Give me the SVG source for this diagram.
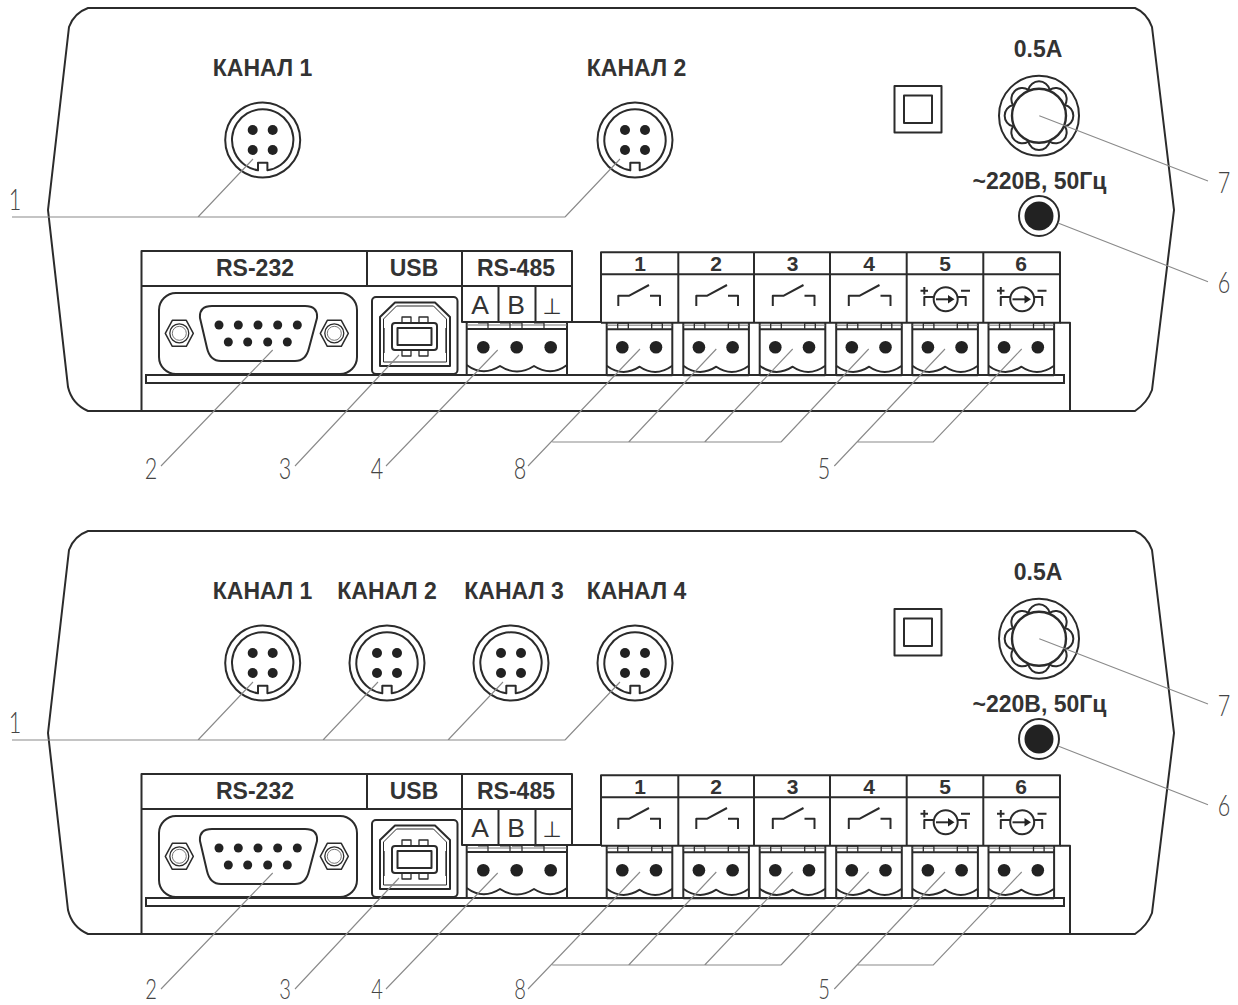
<svg xmlns="http://www.w3.org/2000/svg" width="1238" height="1005" viewBox="0 0 1238 1005">
<style>
.l{fill:none;stroke:#2b2b2b;stroke-width:2;stroke-linejoin:round}
.w{fill:#fff;stroke:#2b2b2b;stroke-width:2}
.d{fill:#222}
.b{font-family:"Liberation Sans",Arial,sans-serif;font-weight:700;font-size:23px;fill:#333;text-anchor:middle}
.n{font-family:"Liberation Sans",Arial,sans-serif;font-weight:700;font-size:21px;fill:#333;text-anchor:middle}
.s{font-family:"Liberation Sans",Arial,sans-serif;font-size:26.5px;fill:#333;text-anchor:middle}
.p{font-family:"DejaVu Sans",sans-serif;font-size:22px;fill:#333;text-anchor:middle}
.num{font-family:Lato,"Liberation Sans",sans-serif;font-weight:300;font-size:30px;fill:#444;text-anchor:middle}
.low{font-size:28px}
.ld{fill:none;stroke:#8a8a8a;stroke-width:1.1}
</style>
<defs>
<path id="body" class="l" d="M88 8L1135 8Q1147 13 1152 27L1174 210L1152 390Q1147 403 1135 411L88 411Q72 404 68 387L48 210L69 27Q74 13 88 8Z"/>
<g id="din">
<circle class="l" r="37.5"/>
<path class="l" d="M-4.7 30.3L-4.7 22.7L4.7 22.7L4.7 30.3A30.7 30.7 0 1 0 -4.7 30.3Z"/>
<circle class="d" cx="-10" cy="-10" r="5"/><circle class="d" cx="10" cy="-10" r="5"/><circle class="d" cx="-10" cy="10" r="5"/><circle class="d" cx="10" cy="10" r="5"/>
</g>
<g id="fuse">
<circle class="l" r="40"/>
<path class="l" d="M25.9 -10.7A11 11 0 0 1 25.9 10.7A11 11 0 0 1 10.7 25.9A11 11 0 0 1 -10.7 25.9A11 11 0 0 1 -25.9 10.7A11 11 0 0 1 -25.9 -10.7A11 11 0 0 1 -10.7 -25.9A11 11 0 0 1 10.7 -25.9A11 11 0 0 1 25.9 -10.7Z"/>
<circle class="w" r="27" style="stroke-width:2.4"/>
</g>
<path id="hex" class="l" d="M-14 0L-7 -13L7 -13L14 0L7 13L-7 13Z" style="stroke-width:1.5"/>
<g id="nut"><use href="#hex"/><circle r="9.5" fill="none" stroke="#2b2b2b" stroke-width="1.3"/><circle r="7" fill="none" stroke="#555" stroke-width=".8"/></g>
<g id="term2">
<path class="l" d="M0 0V52.5M65.6 0V52.5M0 52.5H65.6"/>
<path d="M0 2.5H65.6" fill="none" stroke="#777" stroke-width="1"/>
<path class="l" d="M0 6.5H65.6"/>
<path class="l" d="M11 0.5H21.6V6M45 0.5H55.6V6M11 0.5V6M45 0.5V6" style="stroke-width:1.3"/>
<path class="l" d="M0 43Q16 55 33 44Q49 55 65.6 43"/>
<circle class="d" cx="15.6" cy="24.6" r="6.3"/><circle class="d" cx="49.3" cy="24.6" r="6.3"/>
</g>
<path id="sw" class="l" d="M618.3 306V295.7H629.3L649 285M650 295.7H660V306"/>
<g id="src">
<circle class="l" cx="945.7" cy="299.3" r="12"/>
<path class="l" d="M936 299.3H950"/><path class="d" d="M948 295L954.5 299.3L948 303.6Z"/>
<path class="l" d="M920.5 290.7H928M924.3 287V294.5M961 290.7H970M924.3 306V297H933.5M957.5 297H965.7V306"/>
</g>
</defs>

<g id="panel-top">
<use href="#body"/>
<g id="top-frame"><path class="l" d="M141.500 411V251H572V322M141.500 286H572M367 251V286M462 251V322H601M498.500 286V322M535.500 286V322M1070 411V322.700H1060"/>
<rect class="w" x="146" y="375" width="918" height="8"/></g>
<g id="top-din1"><use href="#din" x="262.700" y="140"/><text class="b" x="262.500" y="76">КАНАЛ 1</text></g>
<g id="top-din2"><use href="#din" x="635" y="140"/><text class="b" x="636.500" y="76">КАНАЛ 2</text></g>
<g id="top-square"><rect class="l" x="894.500" y="86" width="47" height="46.500"/><rect class="l" x="904" y="95.500" width="28" height="27.500"/></g>
<g id="top-fuse"><use href="#fuse" x="1039" y="115.700"/><text class="b" x="1038" y="57">0.5А</text></g>
<g id="top-jack"><circle class="l" cx="1039" cy="216" r="20"/><circle class="d" cx="1039" cy="216" r="14.500"/><text class="b" x="1039.500" y="189">~220В, 50Гц</text></g>
<g id="top-rs232"><text class="b" x="255" y="276">RS-232</text>
<rect class="l" x="159" y="293" width="198" height="81" rx="17"/>
<use href="#nut" x="179.300" y="333.300"/><use href="#nut" x="334.300" y="333.300"/>
<path class="l" d="M212 306H305Q318 306 317 318L309 348Q306 361 295 361H221Q210 361 207 348L200 318Q199 306 212 306Z"/>
<g class="d"><circle cx="219" cy="325" r="4.500"/><circle cx="238.300" cy="325" r="4.500"/><circle cx="258" cy="325" r="4.500"/><circle cx="277.700" cy="325" r="4.500"/><circle cx="297.300" cy="325" r="4.500"/><circle cx="228.300" cy="342" r="4.500"/><circle cx="247.700" cy="342" r="4.500"/><circle cx="267.700" cy="342" r="4.500"/><circle cx="287.300" cy="342" r="4.500"/></g></g>
<g id="top-usb"><text class="b" x="414" y="276">USB</text>
<rect class="l" x="372" y="297" width="85.500" height="77" rx="4"/>
<path class="l" d="M395 302.500H435L450 317V366H380V317Z"/>
<path class="l" d="M396.500 306H433.500L446.500 319V362H383.500V319Z" style="stroke-width:1"/>
<rect class="l" x="392" y="323" width="45" height="27" rx="3"/><rect class="l" x="397.500" y="328" width="34" height="17"/>
<path class="l" d="M402 323V317H411V323M419 323V317H428V323M402 350V356H411V350M419 350V356H428V350M384 328V353M446 328V353" style="stroke-width:1.300"/></g>
<g id="top-rs485"><text class="b" x="516" y="276">RS-485</text><text class="s" x="480" y="314">A</text><text class="s" x="516" y="314">B</text><text class="p" x="552" y="314">⊥</text>
<path class="l" d="M466.700 322.700V375M567 322.700V375M466.700 375H567"/>
<path d="M466.700 325H567" fill="none" stroke="#777"/><path class="l" d="M466.700 329H567"/>
<path class="l" d="M478 323H488V329M500 323H510V329M512 323H522V329M534 323H544V329" style="stroke-width:1.200"/>
<path class="l" d="M466.700 365Q483 377 500 366Q517 377 534 366Q551 377 567 365"/>
<circle class="d" cx="483.300" cy="347.300" r="6.300"/><circle class="d" cx="516.700" cy="347.300" r="6.300"/><circle class="d" cx="550.700" cy="347.300" r="6.300"/></g>
<g id="top-outputs">
<path class="l" d="M601 322.700V252.300H1060V322.700H601M601 274.300H1060M678.300 252.300V322.700M754 252.300V322.700M830 252.300V322.700M906.700 252.300V322.700M983.300 252.300V322.700"/>
<text class="n" x="640" y="271">1</text><text class="n" x="716" y="271">2</text><text class="n" x="792.500" y="271">3</text><text class="n" x="869" y="271">4</text><text class="n" x="945" y="271">5</text><text class="n" x="1021" y="271">6</text>
<use href="#sw"/><use href="#sw" x="78"/><use href="#sw" x="154.500"/><use href="#sw" x="230.500"/><use href="#src"/><use href="#src" x="76.500"/>
<use href="#term2" x="606.700" y="322.700"/><use href="#term2" x="683.300" y="322.700"/><use href="#term2" x="759.700" y="322.700"/><use href="#term2" x="836.200" y="322.700"/><use href="#term2" x="912.300" y="322.700"/><use href="#term2" x="988.500" y="322.700"/>
</g>
</g>

<g id="panel-bottom" transform="translate(0,523)">
<use href="#body"/>
<g id="bot-frame"><path class="l" d="M141.500 411V251H572V322M141.500 286H572M367 251V286M462 251V322H601M498.500 286V322M535.500 286V322M1070 411V322.700H1060"/>
<rect class="w" x="146" y="375" width="918" height="8"/></g>
<g id="bot-din1"><use href="#din" x="262.700" y="140"/><text class="b" x="262.500" y="76">КАНАЛ 1</text></g>
<g id="bot-din2"><use href="#din" x="387" y="140"/><text class="b" x="387" y="76">КАНАЛ 2</text></g>
<g id="bot-din3"><use href="#din" x="511" y="140"/><text class="b" x="514" y="76">КАНАЛ 3</text></g>
<g id="bot-din4"><use href="#din" x="635" y="140"/><text class="b" x="636.500" y="76">КАНАЛ 4</text></g>
<g id="bot-square"><rect class="l" x="894.500" y="86" width="47" height="46.500"/><rect class="l" x="904" y="95.500" width="28" height="27.500"/></g>
<g id="bot-fuse"><use href="#fuse" x="1039" y="115.700"/><text class="b" x="1038" y="57">0.5А</text></g>
<g id="bot-jack"><circle class="l" cx="1039" cy="216" r="20"/><circle class="d" cx="1039" cy="216" r="14.500"/><text class="b" x="1039.500" y="189">~220В, 50Гц</text></g>
<g id="bot-rs232"><text class="b" x="255" y="276">RS-232</text>
<rect class="l" x="159" y="293" width="198" height="81" rx="17"/>
<use href="#nut" x="179.300" y="333.300"/><use href="#nut" x="334.300" y="333.300"/>
<path class="l" d="M212 306H305Q318 306 317 318L309 348Q306 361 295 361H221Q210 361 207 348L200 318Q199 306 212 306Z"/>
<g class="d"><circle cx="219" cy="325" r="4.500"/><circle cx="238.300" cy="325" r="4.500"/><circle cx="258" cy="325" r="4.500"/><circle cx="277.700" cy="325" r="4.500"/><circle cx="297.300" cy="325" r="4.500"/><circle cx="228.300" cy="342" r="4.500"/><circle cx="247.700" cy="342" r="4.500"/><circle cx="267.700" cy="342" r="4.500"/><circle cx="287.300" cy="342" r="4.500"/></g></g>
<g id="bot-usb"><text class="b" x="414" y="276">USB</text>
<rect class="l" x="372" y="297" width="85.500" height="77" rx="4"/>
<path class="l" d="M395 302.500H435L450 317V366H380V317Z"/>
<path class="l" d="M396.500 306H433.500L446.500 319V362H383.500V319Z" style="stroke-width:1"/>
<rect class="l" x="392" y="323" width="45" height="27" rx="3"/><rect class="l" x="397.500" y="328" width="34" height="17"/>
<path class="l" d="M402 323V317H411V323M419 323V317H428V323M402 350V356H411V350M419 350V356H428V350M384 328V353M446 328V353" style="stroke-width:1.300"/></g>
<g id="bot-rs485"><text class="b" x="516" y="276">RS-485</text><text class="s" x="480" y="314">A</text><text class="s" x="516" y="314">B</text><text class="p" x="552" y="314">⊥</text>
<path class="l" d="M466.700 322.700V375M567 322.700V375M466.700 375H567"/>
<path d="M466.700 325H567" fill="none" stroke="#777"/><path class="l" d="M466.700 329H567"/>
<path class="l" d="M478 323H488V329M500 323H510V329M512 323H522V329M534 323H544V329" style="stroke-width:1.200"/>
<path class="l" d="M466.700 365Q483 377 500 366Q517 377 534 366Q551 377 567 365"/>
<circle class="d" cx="483.300" cy="347.300" r="6.300"/><circle class="d" cx="516.700" cy="347.300" r="6.300"/><circle class="d" cx="550.700" cy="347.300" r="6.300"/></g>
<g id="bot-outputs">
<path class="l" d="M601 322.700V252.300H1060V322.700H601M601 274.300H1060M678.300 252.300V322.700M754 252.300V322.700M830 252.300V322.700M906.700 252.300V322.700M983.300 252.300V322.700"/>
<text class="n" x="640" y="271">1</text><text class="n" x="716" y="271">2</text><text class="n" x="792.500" y="271">3</text><text class="n" x="869" y="271">4</text><text class="n" x="945" y="271">5</text><text class="n" x="1021" y="271">6</text>
<use href="#sw"/><use href="#sw" x="78"/><use href="#sw" x="154.500"/><use href="#sw" x="230.500"/><use href="#src"/><use href="#src" x="76.500"/>
<use href="#term2" x="606.700" y="322.700"/><use href="#term2" x="683.300" y="322.700"/><use href="#term2" x="759.700" y="322.700"/><use href="#term2" x="836.200" y="322.700"/><use href="#term2" x="912.300" y="322.700"/><use href="#term2" x="988.500" y="322.700"/>
</g>
</g>

<g id="connectors">
<path class="ld" d="M12 217H565M198 217L253 159M565 217L620 159"/>
<path class="ld" d="M161 466L272.700 350M295 466L399 355M386 466L497.700 350M528 466L640 349M552.300 442H781M628.700 442L716.300 349M704.700 442L792.700 349M781 442L868.700 349M834.300 466L945 349M856.700 442H933.300L1021.700 349M1039.300 115.700L1208 181M1058 223L1208 281.700"/>
<path class="ld" d="M12 740H565M198 740L253 682M323 740L378 682M448 740L503 682M565 740L620 682"/>
<path class="ld" d="M161 989L272.700 873M295 989L399 878M386 989L497.700 873M528 989L640 872M552.300 965H781M628.700 965L716.300 872M704.700 965L792.700 872M781 965L868.700 872M834.300 989L945 872M856.700 965H933.300L1021.700 872M1039.300 638.700L1208 704M1058 746L1208 804.700"/>
</g>

<g id="leader-numbers" class="num">
<text transform="translate(15,210) scale(.72,1)">1</text>
<text transform="translate(151,479) scale(.72,1)">2</text>
<text transform="translate(285,479) scale(.72,1)">3</text>
<text transform="translate(377,479) scale(.72,1)">4</text>
<text transform="translate(520,479) scale(.72,1)">8</text>
<text transform="translate(824,479) scale(.72,1)">5</text>
<text transform="translate(1224,193) scale(.72,1)">7</text>
<text transform="translate(1224,293) scale(.72,1)">6</text>
<text transform="translate(15,733) scale(.72,1)">1</text>
<text class="low" transform="translate(151,999) scale(.72,1)">2</text>
<text class="low" transform="translate(285,999) scale(.72,1)">3</text>
<text class="low" transform="translate(377,999) scale(.72,1)">4</text>
<text class="low" transform="translate(520,999) scale(.72,1)">8</text>
<text class="low" transform="translate(824,999) scale(.72,1)">5</text>
<text transform="translate(1224,716) scale(.72,1)">7</text>
<text transform="translate(1224,816) scale(.72,1)">6</text>
</g>
</svg>
